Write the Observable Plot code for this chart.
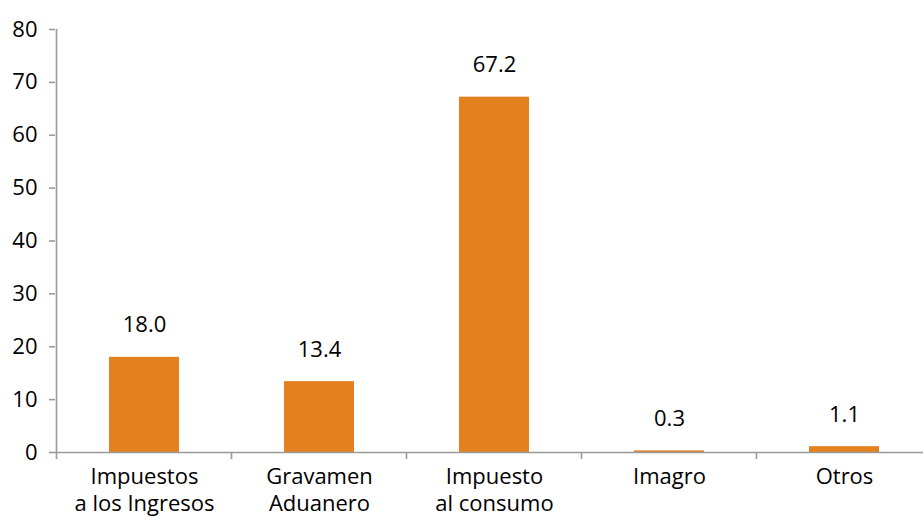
<!DOCTYPE html>
<html>
<head>
<meta charset="utf-8">
<script src="https://cdn.jsdelivr.net/npm/d3@7"></script>
<script src="https://cdn.jsdelivr.net/npm/@observablehq/plot@0.6"></script>
<style>
  html, body { margin: 0; padding: 0; background: #fff; }
</style>
</head>
<body>
<div id="chart"></div>
<script>
const categories = ["Impuestos\na los Ingresos", "Gravamen\nAduanero", "Impuesto\nal consumo", "Imagro", "Otros"];
const values = [18.0, 13.4, 67.2, 0.3, 1.1];
const yTicks = [0, 10, 20, 30, 40, 50, 60, 70, 80];

const data = categories.map((c, i) => ({cat: c, value: values[i]}));
const axisColor = "#9a9a9a";
const barColor = "#E5801F";
const font = "'Open Sans', sans-serif";

const chart = Plot.plot({
  width: 923,
  height: 518,
  marginLeft: 55,
  marginRight: 0,
  marginTop: 29,
  marginBottom: 66,
  style: {fontFamily: font, fontSize: "22px", color: "#000", background: "#fff"},
  x: {domain: categories, range: [55, 934], paddingInner: 0.6, paddingOuter: 0.3, align: 0.5},
  y: {domain: [0, 80]},
  marks: [
    Plot.barY(data, {x: "cat", y: "value", fill: barColor}),
    Plot.ruleY([0], {stroke: axisColor, strokeWidth: 1.6}),
    Plot.ruleX([categories[0]], {x: d => d, y1: 0, y2: 80, dx: -88, stroke: axisColor, strokeWidth: 1.6}),
    Plot.ruleX(categories, {x: d => d, y1: 0, y2: 0, dx: -88, insetBottom: -7, stroke: axisColor, strokeWidth: 1.6}),
    Plot.axisY({ticks: yTicks, tickSize: 6, tickPadding: 12, stroke: axisColor, strokeWidth: 1.6, fontSize: 22, label: null}),
    Plot.axisX({tickSize: 0, tickPadding: 12, fontSize: 22, lineHeight: 1.24, label: null}),
    Plot.text(data, {x: "cat", y: "value", text: d => d.value.toFixed(1), dy: -32, fontSize: 22, lineAnchor: "middle", fill: "#000"})
  ]
});
document.getElementById("chart").appendChild(chart);
</script>
</body>
</html>
